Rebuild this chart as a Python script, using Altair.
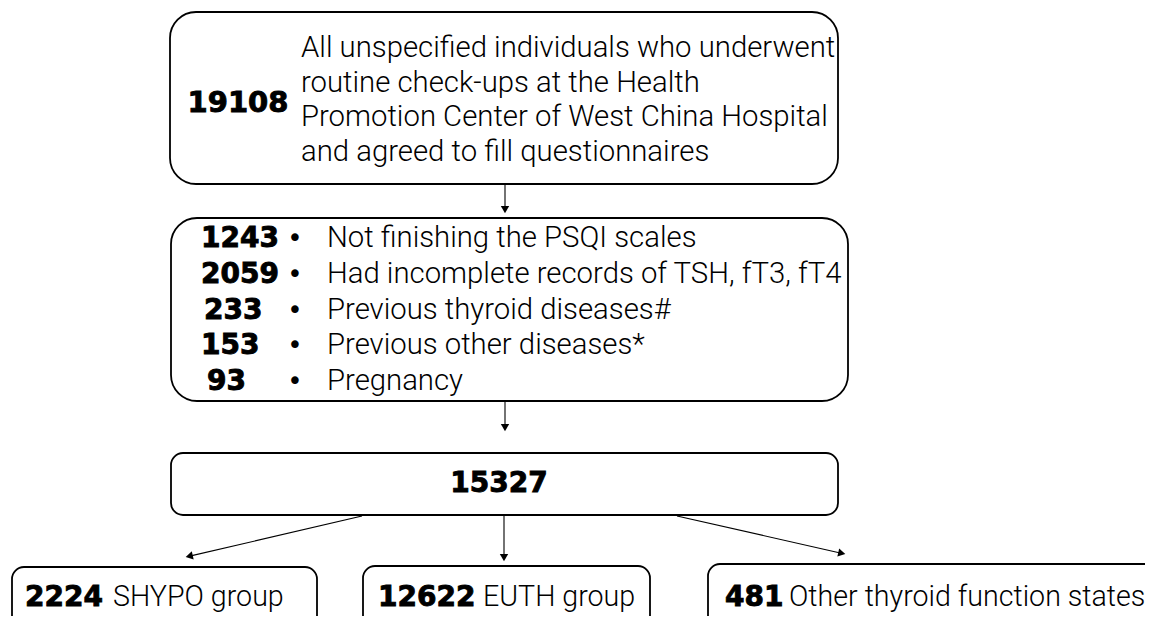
import math
import altair as alt
import pandas as pd

# ---------------- content ----------------
top_count = "19108"
top_lines = [
    "All unspecified individuals who underwent",
    "routine check-ups at the Health",
    "Promotion Center of West China Hospital",
    "and agreed to fill questionnaires",
]
excl_counts = ["1243", "2059", "233", "153", "93"]
excl_reasons = [
    "Not finishing the PSQI scales",
    "Had incomplete records of TSH, fT3, fT4",
    "Previous thyroid diseases#",
    "Previous other diseases*",
    "Pregnancy",
]
final_count = "15327"
group_counts = ["2224", "12622", "481"]
group_labels = ["SHYPO group", "EUTH group", "Other thyroid function states"]

# ---------------- layout (page pixel coordinates) ----------------
W, H = 1137, 608
REG = "Roboto"
BOLD = "DejaVu Sans"
RS = 29.3   # regular text size

X = lambda f: alt.X(f, type="quantitative", scale=alt.Scale(domain=[8, 8 + W], nice=False, zero=False), axis=None)
Y = lambda f: alt.Y(f, type="quantitative", scale=alt.Scale(domain=[8, 8 + H], nice=False, zero=False, reverse=True), axis=None)

big_boxes = pd.DataFrame({"x": [170, 171], "x2": [838, 848], "y": [12, 218], "y2": [184, 401]})
small_boxes = pd.DataFrame({"x": [171, 12, 363, 708], "x2": [838, 317, 650, 1175],
                            "y": [453, 567, 566, 564], "y2": [515, 650, 650, 650]})

def boxes(df, r):
    return alt.Chart(df).mark_rect(fill="white", stroke="black", strokeWidth=1.8, cornerRadius=r).encode(
        x=X("x"), x2="x2", y=Y("y"), y2="y2")

# arrows
arrows = [((505, 185), (505, 213)), ((505, 402), (505, 431)),
          ((362, 516), (186, 557)), ((504, 516), (504, 561)), ((677, 516), (845, 554))]
rows, heads = [], []
for (x0, y0), (x1, y1) in arrows:
    dx, dy = x1 - x0, y1 - y0
    L = math.hypot(dx, dy)
    ux, uy = dx / L, dy / L
    rows.append({"x": x0, "y": y0, "x2": x1 - 6 * ux, "y2": y1 - 6 * uy})
    ang = math.degrees(math.atan2(dx, -dy)) % 360
    heads.append({"x": x1 - 4.5 * ux, "y": y1 - 4.5 * uy, "angle": ang})
lines_df = pd.DataFrame(rows)
heads_df = pd.DataFrame(heads)

arrow_lines = alt.Chart(lines_df).mark_rule(color="black", strokeWidth=1.1).encode(
    x=X("x"), y=Y("y"), x2="x2", y2="y2")
arrow_heads = alt.Chart(heads_df).mark_point(shape="triangle", filled=True, color="black", size=70, opacity=1).encode(
    x=X("x"), y=Y("y"), angle=alt.Angle("angle:Q", scale=None))

# texts (y = baseline)
def text_layer(df, font, size, weight, align="left", heavy=False):
    extra = {"stroke": "black", "strokeWidth": 0.9} if heavy else {}
    return alt.Chart(df).mark_text(font=font, fontSize=size, fontWeight=weight, align=align,
                                   baseline="alphabetic", color="black", **extra).encode(
        x=X("x"), y=Y("y"), text="t:N")

top_num_df = pd.DataFrame({"t": [top_count], "x": [238], "y": [112]})
top_txt_df = pd.DataFrame({"t": top_lines, "x": [301] * 4, "y": [56.7 + 34.8 * i for i in range(4)]})

excl_y = [247 + 35.8 * i for i in range(len(excl_counts))]
excl_num_x = [201, 201, 204, 201, 207]
excl_num_df = pd.DataFrame({"t": excl_counts, "x": excl_num_x, "y": excl_y})
bullet_df = pd.DataFrame({"t": ["•"] * len(excl_counts), "x": [295] * len(excl_counts), "y": excl_y})
excl_txt_df = pd.DataFrame({"t": excl_reasons, "x": [327] * len(excl_reasons), "y": excl_y})

final_df = pd.DataFrame({"t": [final_count], "x": [499], "y": [492]})
grp_num_df = pd.DataFrame({"t": group_counts, "x": [25, 378, 725], "y": [606, 606, 606]})
grp_txt_df = pd.DataFrame({"t": group_labels, "x": [113, 483, 789], "y": [606, 606, 606]})

chart = alt.layer(
    boxes(big_boxes, 26),
    boxes(small_boxes, 12),
    arrow_lines,
    arrow_heads,
    text_layer(top_num_df, BOLD, 29, 900, "center", heavy=True),
    text_layer(top_txt_df, REG, RS, 300),
    text_layer(excl_num_df, BOLD, 28, 900, heavy=True),
    text_layer(bullet_df, BOLD, 26, 400, "center"),
    text_layer(excl_txt_df, REG, RS, 300),
    text_layer(final_df, BOLD, 28, 900, "center", heavy=True),
    text_layer(grp_num_df, BOLD, 28, 900, heavy=True),
    text_layer(grp_txt_df, REG, 28.6, 300),
).properties(width=W, height=H, padding=0, autosize=alt.AutoSizeParams(type="none")).configure_view(strokeWidth=0)

chart.save("out.html", embed_options={"renderer": "svg", "actions": False})
